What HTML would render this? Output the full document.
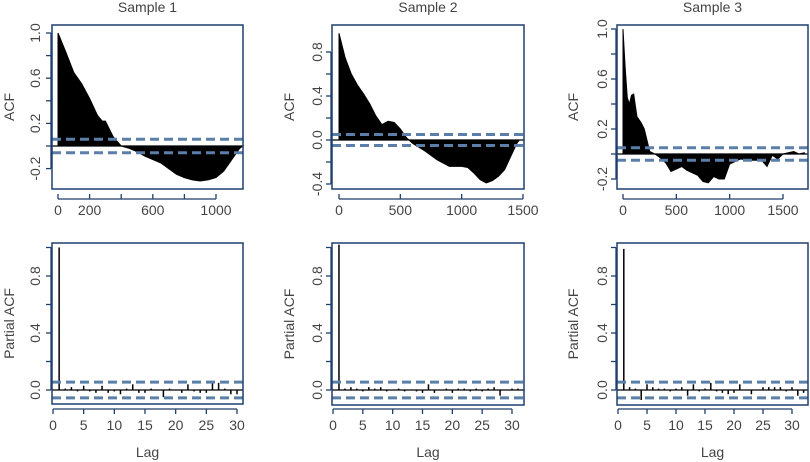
<!DOCTYPE html>
<html><head><meta charset="utf-8">
<style>
html,body{margin:0;padding:0;background:#fff;}
svg{display:block;font-family:"Liberation Sans",sans-serif;}
</style></head>
<body>
<svg id="chart" width="810" height="462" viewBox="0 0 810 462" xmlns="http://www.w3.org/2000/svg"></svg>
<script>
// ---- data ----
const acf1Lags = [0,50,100,150,200,250,280,300,350,400,450,500,550,600,650,700,750,800,850,900,950,1000,1050,1100,1150,1170];
const acf1Vals = [1.0,0.83,0.65,0.55,0.42,0.27,0.22,0.22,0.08,0.0,-0.02,-0.05,-0.09,-0.12,-0.15,-0.2,-0.25,-0.28,-0.3,-0.31,-0.3,-0.28,-0.22,-0.12,-0.02,0];
const acf2Lags = [0,50,100,150,200,250,300,350,400,450,500,550,600,700,800,900,1000,1050,1100,1150,1200,1250,1300,1350,1400,1450,1470];
const acf2Vals = [0.97,0.75,0.6,0.5,0.42,0.33,0.22,0.14,0.17,0.16,0.1,0.02,-0.03,-0.1,-0.18,-0.24,-0.24,-0.25,-0.3,-0.36,-0.39,-0.37,-0.33,-0.27,-0.15,-0.03,0];
const acf3Lags = [0,20,40,60,80,100,130,170,200,250,300,350,400,450,500,550,600,650,700,750,800,850,900,950,1000,1050,1100,1200,1300,1350,1400,1450,1500,1550,1600,1650,1700];
const acf3Vals = [1.0,0.7,0.45,0.4,0.47,0.48,0.3,0.25,0.2,0.02,0.0,-0.03,-0.07,-0.14,-0.12,-0.1,-0.13,-0.15,-0.17,-0.22,-0.23,-0.18,-0.2,-0.2,-0.08,-0.06,-0.04,-0.05,-0.05,-0.1,-0.01,-0.04,0.0,0.01,0.02,0.0,0.01];
const pacf1 = [1.0,0.01,0.02,-0.01,0.03,-0.01,-0.02,0.03,-0.02,-0.01,-0.03,0.01,0.04,-0.02,-0.02,0.01,0.0,-0.05,0.01,0.0,-0.02,0.04,-0.01,-0.02,-0.02,0.05,0.05,0.01,-0.03,-0.03];
const pacf2 = [1.02,0.01,0.02,0.01,-0.01,0.02,0.01,0.02,-0.01,0.0,0.01,-0.01,0.0,-0.01,-0.02,0.04,-0.02,0.0,0.01,-0.02,0.01,0.01,-0.01,0.01,-0.01,0.01,0.02,-0.04,0.0,0.01,0.01];
const pacf3 = [0.99,0.02,0.01,-0.07,0.04,0.02,0.01,0.01,-0.01,0.01,0.02,-0.04,0.04,-0.01,0.01,0.05,-0.01,-0.02,-0.03,-0.02,0.04,0.0,-0.03,0.0,0.02,0.02,0.02,0.02,-0.01,0.02,-0.04,-0.02];
const acfBand = [0.06,0.05,0.05];
const pacfBand = 0.055;
const titles = ["Sample 1","Sample 2","Sample 3"];
const xTicksTop = [[0,200,400,600,800,1000],[0,500,1000,1500],[0,500,1000,1500]];
const xLabelsTop = [["0","200","","600","","1000"],["0","500","1000","1500"],["0","500","1000","1500"]];
const yTicksTop = [[-0.2,0,0.2,0.4,0.6,0.8,1.0],[-0.4,-0.2,0,0.2,0.4,0.6,0.8],[-0.2,0,0.2,0.4,0.6,0.8,1.0]];
const yLabelsTop = [["-0.2","","0.2","","0.6","","1.0"],["-0.4","","0.0","","0.4","","0.8"],["-0.2","","0.2","","0.6","","1.0"]];
const xTicksBot = [0,5,10,15,20,25,30];
const yTicksBot = [0,0.2,0.4,0.6,0.8,1.0];
const yLabelsBot = ["0.0","","0.4","","0.8",""];

// ---- layout ----
const NS="http://www.w3.org/2000/svg";
const svg=document.getElementById('chart');
const BOX="#1f3f6e", TXT="#444", BAND="#5b7fa8";
function el(tag,attrs,parent){const e=document.createElementNS(NS,tag);for(const k in attrs)e.setAttribute(k,attrs[k]);(parent||svg).appendChild(e);return e;}
function txt(s,x,y,rot,size,parent){const t=el('text',{x:x,y:y,'font-size':size||14,fill:TXT,'text-anchor':'middle','dominant-baseline':'central'},parent);if(rot)t.setAttribute('transform','rotate(-90 '+x+' '+y+')');t.textContent=s;return t;}
function lin(d0,d1,r0,r1){return v=>r0+(v-d0)*(r1-r0)/(d1-d0);}

const topPanels=[
 {box:[52,25,243,189],x:lin(0,1000,58,216),y:lin(0,1,146,33),lags:acf1Lags,vals:acf1Vals,yl:35,at:9,xmax:1000},
 {box:[332,25,524,189],x:lin(0,1500,339,523),y:lin(-0.4,0.8,184,52),lags:acf2Lags,vals:acf2Vals,yl:317,at:289,xmax:1500},
 {box:[617,25,808,189],x:lin(0,1500,623,783),y:lin(-0.2,1,179,29),lags:acf3Lags,vals:acf3Vals,yl:602,at:573,xmax:1500}
];
const botPanels=[
 {box:[52,243,243,404],x:lin(0,30,53,237),vals:pacf1,yl:35,at:9},
 {box:[332,243,524,405],x:lin(0,30,333,512),vals:pacf2,yl:317,at:289},
 {box:[617,243,808,405],x:lin(0,30,618,792),vals:pacf3,yl:602,at:573}
];
const yBot=lin(0,0.8,390,276);

topPanels.forEach((p,i)=>{
 const g=el('g',{});
 
 
 const [x0,y0,x1,y1]=p.box;
 const cx=(x0+x1)/2;
 const t=txt(titles[i],cx,7,false,14,g);
 
 
 // area
 let d='M'+p.x(p.lags[0])+' '+p.y(0);
 p.lags.forEach((l,k)=>{d+=' L'+p.x(l).toFixed(1)+' '+p.y(p.vals[k]).toFixed(1);});
 d+=' L'+p.x(p.lags[p.lags.length-1]).toFixed(1)+' '+p.y(0)+' Z';
 const a=el('path',{d:d,fill:'#000',stroke:'#000','stroke-width':1},g);
 
 
 const z=el('line',{x1:x0,x2:x1,y1:p.y(0),y2:p.y(0),stroke:'#000','stroke-width':1.3},g);
 
 
 [acfBand[i],-acfBand[i]].forEach(b=>{
  const l=el('line',{x1:x0,x2:x1,y1:p.y(b),y2:p.y(b),stroke:BAND,'stroke-width':3,'stroke-dasharray':'9 5'},g);
  
  
 });
 const r=el('rect',{x:x0,y:y0,width:x1-x0,height:y1-y0,fill:'none',stroke:BOX,'stroke-width':1.5},g);
 
 
 // x axis
 const xt=xTicksTop[i];
 const ax=el('line',{x1:p.x(xt[0]),x2:p.x(xt[xt.length-1]),y1:199,y2:199,stroke:BOX,'stroke-width':1.3},g);
 
 
 xt.forEach((v,k)=>{
  el('line',{x1:p.x(v),x2:p.x(v),y1:199,y2:194,stroke:BOX,'stroke-width':1.3},g);
  if(xLabelsTop[i][k]){const tl=txt(xLabelsTop[i][k],p.x(v),210,false,14,g);}
 });
 // y axis
 const yt=yTicksTop[i];
 const ay=el('line',{x1:x0-1,x2:x0-1,y1:p.y(yt[0]),y2:p.y(yt[yt.length-1]),stroke:BOX,'stroke-width':1.3},g);
 
 
 yt.forEach((v,k)=>{
  el('line',{x1:x0-1,x2:x0-6,y1:p.y(v),y2:p.y(v),stroke:BOX,'stroke-width':1.3},g);
  if(yLabelsTop[i][k]){const tl=txt(yLabelsTop[i][k],p.yl,p.y(v),true,14,g);}
 });
 const yt2=txt('ACF',p.at,(y0+y1)/2,true,14,g);
 
 
});

botPanels.forEach((p,i)=>{
 const g=el('g',{});
 
 
 const [x0,y0,x1,y1]=p.box;
 p.vals.forEach((v,k)=>{
  const l=el('line',{x1:p.x(k+1),x2:p.x(k+1),y1:yBot(0),y2:yBot(v),stroke:'#000','stroke-width':1.5},g);
  
  
 });
 const z=el('line',{x1:x0,x2:x1,y1:yBot(0),y2:yBot(0),stroke:'#000','stroke-width':1.3},g);
 
 
 [pacfBand,-pacfBand].forEach(b=>{
  const l=el('line',{x1:x0,x2:x1,y1:yBot(b),y2:yBot(b),stroke:BAND,'stroke-width':3,'stroke-dasharray':'9 5'},g);
  
  
 });
 const r=el('rect',{x:x0,y:y0,width:x1-x0,height:y1-y0,fill:'none',stroke:BOX,'stroke-width':1.5},g);
 
 
 const ax=el('line',{x1:p.x(0),x2:p.x(30),y1:409,y2:409,stroke:BOX,'stroke-width':1.3},g);
 
 
 xTicksBot.forEach(v=>{
  el('line',{x1:p.x(v),x2:p.x(v),y1:409,y2:414,stroke:BOX,'stroke-width':1.3},g);
  const tl=txt(String(v),p.x(v),425,false,14,g);
  
  
 });
 const ay=el('line',{x1:x0-1,x2:x0-1,y1:yBot(0),y2:yBot(1),stroke:BOX,'stroke-width':1.3},g);
 
 
 yTicksBot.forEach((v,k)=>{
  el('line',{x1:x0-1,x2:x0-6,y1:yBot(v),y2:yBot(v),stroke:BOX,'stroke-width':1.3},g);
  if(yLabelsBot[k]){const tl=txt(yLabelsBot[k],p.yl,yBot(v),true,14,g);}
 });
 const yt2=txt('Partial ACF',p.at,(y0+y1)/2,true,14,g);
 
 
 const xl=txt('Lag',(x0+x1)/2,452,false,14,g);
 
 
});
</script>
</body></html>
